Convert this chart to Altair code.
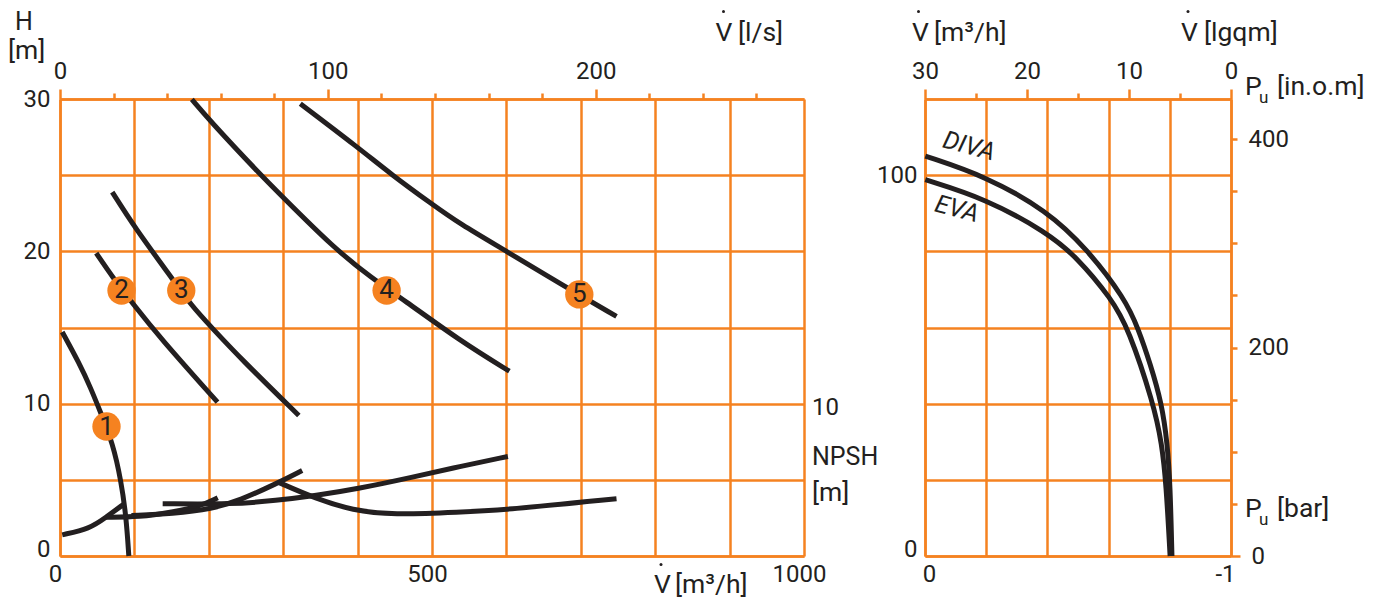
import altair as alt
import pandas as pd

ORANGE = "#F58220"
INK = "#231F20"
FONT = "Roboto"

# Pump curves: flow [m3/h], head [m]
pumps = {
    "1": ([3, 26, 41, 54.4, 71, 82, 89, 92.5], [14.7, 12.64, 11.06, 9.44, 7.39, 4.96, 2.55, 0]),
    "2": ([48.7, 70.6, 97.4, 133.7, 211.7], [19.88, 18.3, 16.6, 14.37, 10.1]),
    "3": ([70.2, 100, 149.5, 176.3, 205, 241, 321], [23.89, 21.59, 18.3, 16.45, 14.94, 13.05, 9.22]),
    "4": ([177.2, 201, 268, 299.5, 366.7, 420, 460, 537, 604],
          [29.97, 28.6, 25.1, 23.56, 20.28, 18.2, 16.89, 14.15, 12.13]),
    "5": ([323, 400, 447, 499, 537, 600, 676, 748], [29.69, 26.84, 24.98, 23.13, 21.81, 20.01, 17.76, 15.73]),
}
npsh = {
    "n1": ([3, 40, 62, 85], [1.39, 1.79, 2.55, 3.38]),
    "n2": ([62, 107, 151, 188, 212], [2.55, 2.55, 2.88, 3.25, 3.82]),
    "n3": ([96, 151.6, 205, 241, 290.6, 325.5], [2.66, 2.77, 3.1, 3.64, 4.74, 5.61]),
    "n4": ([138, 232, 290.6, 344, 400, 474, 537, 602], [3.43, 3.39, 3.64, 3.97, 4.41, 5.17, 5.88, 6.53]),
    "n5": ([293, 344, 393.5, 447, 537, 600, 748], [4.85, 3.76, 2.99, 2.7, 2.88, 3.03, 3.76]),
}
badge_labels = ["1", "2", "3", "4", "5"]
badge_x = [62.5, 82.7, 163, 439, 698]
badge_y = [8.5, 17.43, 17.43, 17.43, 17.17]

# Power curves: pressure [bar], power [%]
diva_x = [-0.001, -0.199, -0.398, -0.529, -0.654, -0.697, -0.736, -0.774, -0.792, -0.801, -0.807]
diva_y = [105, 99.7, 90.7, 80.7, 67.5, 59.7, 50.5, 40, 29.5, 19, 0]
eva_x = [-0.001, -0.199, -0.398, -0.496, -0.610, -0.665, -0.747, -0.774, -0.788, -0.801]
eva_y = [98.8, 93.8, 85, 78.5, 67.5, 59.7, 40, 29.5, 19, 0]

flow_ticks = list(range(0, 1001, 100))
head_ticks = list(range(0, 31, 5))
ls_ticks = list(range(0, 261, 20))
p_ticks = [0, -0.2, -0.4, -0.6, -0.8, -1]
pct_ticks = list(range(0, 121, 20))
m3h_ticks = list(range(0, 31, 5))
inom_ticks = list(range(0, 401, 50))

PW, PH, RW = 744, 457, 306


def long(series):
    rows = []
    for k, (xs, ys) in series.items():
        rows += [{"s": k, "x": a, "y": b, "i": i} for i, (a, b) in enumerate(zip(xs, ys))]
    return pd.DataFrame(rows)


def base_axis(**kw):
    d = dict(title=None, domainColor=ORANGE, domainWidth=2.5, gridColor=ORANGE, gridWidth=2.5, gridOpacity=1,
             tickColor=ORANGE, tickWidth=2.5, labelFont=FONT, labelFontSize=24, labelColor=INK, labelOverlap=False,
             labelFlush=False, labelBound=False)
    d.update(kw)
    return alt.Axis(**d)


def text_layer(text, x, y, size=26.5, **kw):
    return alt.Chart(pd.DataFrame({"t": [text]})).mark_text(
        font=FONT, fontSize=size, color=INK, align=kw.pop("align", "left"), baseline="middle", **kw
    ).encode(x=alt.value(x), y=alt.value(y), text="t:N")


def annotations(items):
    return [text_layer(*it[:3], **it[3]) for it in items]


def dot(x, y):
    return alt.Chart(pd.DataFrame({"d": [0]})).mark_circle(size=9, color=INK, opacity=1).encode(
        x=alt.value(x), y=alt.value(y))


sx = alt.Scale(domain=[0, 1000], nice=False, zero=False)
sy = alt.Scale(domain=[0, 30], nice=False, zero=False)

x_axis = base_axis(values=flow_ticks, orient="bottom", grid=True, ticks=False, labelPadding=6, labelOffset=-5,
                   labelExpr="datum.value % 500 === 0 ? '' + datum.value : ''")
y_axis = base_axis(values=head_ticks, orient="left", grid=True, ticks=False, labelPadding=10,
                   labelExpr="datum.value % 10 === 0 ? '' + datum.value : ''",
                   labelOffset=alt.condition("datum.value === 0", alt.value(-7), alt.value(0)))

curves = alt.Chart(long({**pumps, **npsh})).mark_line(
    color=INK, strokeWidth=5, interpolate="basis", strokeCap="butt"
).encode(
    x=alt.X("x:Q", scale=sx, axis=x_axis),
    y=alt.Y("y:Q", scale=sy, axis=y_axis),
    detail="s:N", order="i:Q",
)
top_ls = alt.Chart(pd.DataFrame({"x": [0]})).mark_point(opacity=0).encode(
    x=alt.X("x:Q", scale=alt.Scale(domain=[0, 1000 / 3.6], nice=False, zero=False),
            axis=base_axis(values=ls_ticks, orient="top", grid=False, labelPadding=6,
                           labelExpr="datum.value % 100 === 0 ? '' + datum.value : ''",
                           tickSize=alt.condition("datum.value % 100 === 0", alt.value(10), alt.value(6)))),
)
badges_df = pd.DataFrame({"x": badge_x, "y": badge_y, "t": badge_labels})
circ = alt.Chart(badges_df).mark_circle(size=804, color=ORANGE, opacity=1).encode(
    x=alt.X("x:Q", scale=sx, axis=None), y=alt.Y("y:Q", scale=sy))
badge_txt = alt.Chart(badges_df).mark_text(font=FONT, fontSize=26, color=INK, baseline="middle").encode(
    x=alt.X("x:Q", scale=sx, axis=None), y=alt.Y("y:Q", scale=sy), text="t:N")

left_texts = annotations([
    ("H", -45, -77, {"size": 25}),
    ("[m]", -52, -48, {}),
    ("V", 655.5, -66, {}),
    ("[l/s]", 678, -66, {}),
    ("10", 752, 309, {"size": 24}),
    ("NPSH", 752, 358, {"size": 25}),
    ("[m]", 752, 394, {}),
    ("V", 594, 486, {}),
    ("[m³/h]", 615, 486, {}),
])

left = alt.layer(curves, circ, badge_txt, top_ls, dot(663.5, -87.5), dot(601, 465.5), *left_texts).resolve_scale(
    x="independent").properties(width=PW, height=PH)

rx = alt.Scale(domain=[0, -1], nice=False, zero=False)
ry = alt.Scale(domain=[0, 120], nice=False, zero=False)
power = alt.Chart(long({"DIVA": (diva_x, diva_y), "EVA": (eva_x, eva_y)})).mark_line(
    color=INK, strokeWidth=5, interpolate="basis", strokeCap="butt"
).encode(
    x=alt.X("x:Q", scale=rx, axis=base_axis(values=p_ticks, orient="bottom", grid=True, ticks=False, labelPadding=6,
            labelExpr="datum.value === 0 || datum.value === -1 ? '' + datum.value : ''",
            labelOffset=alt.condition("datum.value === 0", alt.value(4), alt.value(-6)))),
    y=alt.Y("y:Q", scale=ry, axis=base_axis(values=pct_ticks, orient="left", grid=True, ticks=False, labelPadding=8,
            labelExpr="datum.value === 0 || datum.value === 100 ? '' + datum.value : ''",
            labelOffset=alt.condition("datum.value === 0", alt.value(-7), alt.value(0)))),
    detail="s:N", order="i:Q",
)
top_right = alt.Chart(pd.DataFrame({"x": [0], "y": [0]})).mark_point(opacity=0).encode(
    x=alt.X("x:Q", scale=alt.Scale(domain=[30, 0], nice=False, zero=False),
            axis=base_axis(values=m3h_ticks, orient="top", grid=False, labelPadding=6,
                           labelExpr="datum.value % 10 === 0 ? '' + datum.value : ''",
                           tickSize=alt.condition("datum.value % 10 === 0", alt.value(10), alt.value(6)))),
    y=alt.Y("y:Q", scale=alt.Scale(domain=[0, 438.4], nice=False, zero=False),
            axis=base_axis(values=inom_ticks, orient="right", grid=False, labelPadding=11,
                           labelExpr="datum.value % 200 === 0 ? '' + datum.value : ''",
                           tickSize=alt.condition("datum.value === 0", alt.value(9), alt.value(6)))),
)
right_texts = annotations([
    ("V", -13, -66, {}),
    ("[m³/h]", 9, -66, {}),
    ("V", 256, -66, {}),
    ("[lgqm]", 279, -66, {}),
    ("P", 320, -12, {}),
    ("u", 334, -1, {"size": 17}),
    ("[in.o.m]", 352, -12, {}),
    ("P", 320, 410, {}),
    ("u", 334, 421, {"size": 17}),
    ("[bar]", 352, 410, {}),
    ("DIVA", 44, 47, {"align": "center", "angle": 15, "fontStyle": "italic", "size": 25}),
    ("EVA", 32, 110, {"align": "center", "angle": 15, "fontStyle": "italic", "size": 25}),
])
right = alt.layer(power, top_right, dot(-6.5, -87.5), dot(263, -87.5), *right_texts).resolve_scale(
    x="independent", y="independent").properties(width=RW, height=PH)

chart = alt.hconcat(left, right, spacing=121, bounds="flush").properties(
    padding={"top": 2, "left": 0, "right": 0, "bottom": 0}).configure_view(stroke=None)
chart.save("out.html", embed_options={"renderer": "svg", "actions": False})
